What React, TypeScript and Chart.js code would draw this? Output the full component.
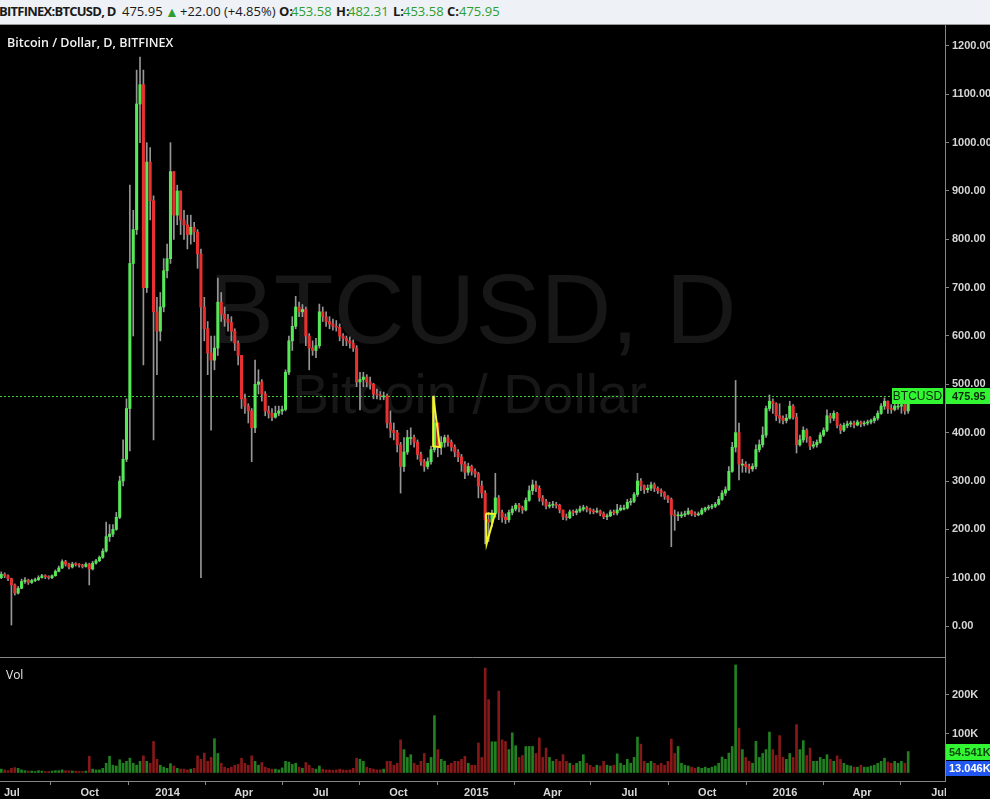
import React, { useEffect, useRef } from "react";
import { Chart, registerables } from "chart.js";

Chart.register(...registerables);

// ---------------- DATA ----------------
// 4-day candles starting 17 Jun 2013 (x = days since 17 Jun 2013)
const DAYS_PER_BAR = 4;
const firstOpen = 100;

const closes = [
  107, 104, 98, 85, 68, 78, 92, 95, 90, 94,
  96, 100, 104, 102, 100, 104, 113, 120, 133, 128,
  122, 128, 127, 126, 123, 128, 118, 130, 135, 142,
  155, 185, 190, 200, 225, 300, 345, 450, 750, 820,
  1080, 1120, 700, 960, 880, 650, 610, 660, 735, 760,
  940, 850, 900, 840, 830, 810, 825, 815, 770, 660,
  615, 565, 550, 575, 670, 645, 635, 628, 610, 585,
  560, 470, 455, 445, 410, 500, 505, 480, 445, 440,
  432, 440, 445, 448, 525, 590, 620, 660, 650, 655,
  600, 575, 570, 580, 650, 640, 630, 625, 620, 618,
  600, 595, 590, 585, 575, 505, 510, 515, 505, 500,
  480, 478, 476, 476, 420, 405, 400, 375, 330, 360,
  390, 390, 380, 355, 340, 330, 340, 365, 420, 370,
  380, 390, 380, 370, 360, 350, 335, 318, 330, 320,
  315, 290, 275, 220, 215, 232, 265, 235, 225, 220,
  235, 242, 250, 245, 240, 260, 280, 292, 285, 265,
  258, 248, 250, 252, 250, 240, 226, 224, 236, 235,
  238, 242, 245, 242, 238, 236, 238, 232, 226, 228,
  236, 234, 240, 244, 244, 256, 258, 272, 300, 290,
  282, 285, 292, 285, 280, 276, 268, 262, 230, 228,
  230, 230, 232, 238, 232, 230, 232, 240, 244, 246,
  248, 252, 262, 275, 282, 320, 370, 400, 335, 335,
  330, 325, 330, 365, 375, 395, 450, 465, 460, 435,
  430, 425, 430, 455, 432, 375, 385, 405, 390, 372,
  375, 380, 395, 405, 435, 430, 440, 415, 405, 415,
  418, 420, 416, 422, 418, 420, 422, 425, 430, 440,
  455, 465, 450, 448, 455, 455, 458, 445, 476,
];

const highs = [
  112, 110, 106, 99, 87, 82, 97, 100, 97, 97,
  99, 104, 107, 106, 104, 106, 116, 124, 137, 136,
  130, 132, 131, 129, 128, 131, 130, 134, 138, 145,
  160, 215, 210, 210, 235, 310, 385, 470, 912, 860,
  1150, 1177, 1150, 1000, 990, 890, 680, 690, 760, 790,
  1000, 940, 912, 900, 860, 850, 850, 835, 820, 780,
  680, 630, 600, 600, 720, 690, 660, 645, 640, 615,
  590, 560, 480, 460, 450, 550, 530, 510, 485, 455,
  450, 455, 455, 455, 530, 600, 640, 682, 670, 665,
  660, 605, 590, 595, 666, 660, 650, 640, 635, 632,
  625, 605, 600, 598, 592, 580, 525, 525, 520, 515,
  502, 490, 485, 484, 480, 445, 420, 405, 380, 390,
  405, 410, 395, 385, 360, 345, 348, 372, 476, 420,
  392, 395, 395, 385, 375, 365, 355, 340, 337, 333,
  325, 318, 300, 280, 235, 240, 316, 270, 240, 232,
  240, 248, 254, 254, 248, 265, 290, 302, 300, 290,
  270, 262, 256, 258, 256, 252, 240, 232, 240, 240,
  242, 248, 250, 248, 244, 242, 244, 240, 236, 232,
  240, 240, 252, 250, 250, 262, 264, 276, 316, 305,
  292, 292, 298, 296, 288, 284, 278, 270, 265, 240,
  236, 236, 238, 244, 240, 236, 236, 244, 246, 250,
  252, 256, 268, 280, 288, 330, 380, 508, 420, 345,
  340, 335, 336, 375, 385, 412, 455, 478, 470, 462,
  460, 435, 438, 465, 458, 440, 395, 412, 408, 392,
  382, 385, 400, 410, 447, 440, 445, 442, 418, 420,
  424, 424, 424, 426, 424, 424, 426, 428, 434, 445,
  460, 472, 466, 458, 462, 460, 462, 460, 482,
];

const lows = [
  98, 100, 94, 2, 64, 66, 77, 88, 86, 88,
  92, 94, 99, 98, 97, 98, 103, 112, 119, 124,
  118, 120, 124, 122, 120, 122, 85, 116, 128, 133,
  140, 153, 175, 185, 198, 222, 290, 340, 362, 600,
  810, 1000, 540, 690, 840, 385, 520, 590, 650, 720,
  750, 800, 830, 810, 800, 780, 790, 795, 740, 100,
  590, 520, 405, 530, 560, 630, 620, 610, 590, 570,
  540, 450, 440, 420, 340, 400, 480, 465, 435, 430,
  425, 430, 435, 438, 445, 520, 570, 615, 640, 640,
  580, 530, 560, 555, 575, 630, 620, 615, 612, 610,
  590, 580, 580, 575, 568, 495, 447, 495, 495, 490,
  470, 470, 468, 468, 410, 390, 385, 360, 275, 320,
  355, 375, 370, 345, 332, 320, 325, 335, 360, 350,
  355, 370, 372, 362, 350, 340, 320, 305, 312, 312,
  308, 265, 265, 170, 175, 205, 225, 220, 215, 212,
  215, 230, 238, 236, 233, 238, 258, 272, 278, 258,
  250, 242, 244, 245, 244, 234, 220, 219, 222, 228,
  230, 235, 238, 236, 232, 232, 234, 228, 222, 220,
  226, 230, 230, 238, 240, 242, 250, 255, 268, 280,
  274, 276, 280, 278, 274, 268, 262, 255, 164, 198,
  218, 224, 226, 230, 228, 226, 228, 230, 236, 240,
  242, 245, 250, 260, 270, 280, 318, 360, 302, 318,
  318, 316, 320, 325, 360, 370, 390, 445, 440, 425,
  420, 418, 420, 428, 428, 358, 372, 380, 380, 365,
  368, 370, 378, 392, 402, 420, 425, 410, 398, 402,
  410, 412, 410, 414, 412, 414, 416, 418, 420, 426,
  438, 448, 440, 440, 445, 448, 440, 438, 440,
];

// volume in thousands of BTC (peak day in each 4-day bar)
const volumesK = [
  10, 8, 6, 12, 14, 12, 8, 6, 5, 5,
  4, 6, 5, 4, 4, 5, 6, 6, 8, 6,
  6, 5, 5, 4, 4, 5, 43, 10, 8, 8,
  12, 25, 43, 20, 18, 34, 25, 30, 38, 25,
  20, 30, 44, 30, 25, 81, 35, 20, 15, 12,
  24, 18, 12, 10, 10, 8, 10, 12, 44, 35,
  51, 30, 40, 88, 50, 25, 15, 12, 15, 20,
  22, 38, 25, 20, 44, 30, 20, 27, 15, 12,
  10, 10, 8, 13, 30, 28, 22, 25, 15, 12,
  27, 20, 12, 10, 18, 10, 8, 8, 7, 8,
  10, 8, 7, 8, 12, 38, 35, 30, 15, 12,
  10, 8, 8, 10, 30, 30, 20, 25, 85, 60,
  40, 47, 25, 20, 30, 50, 25, 40, 147, 60,
  35, 30, 20, 25, 30, 30, 35, 43, 25, 20,
  20, 77, 40, 269, 188, 80, 80, 210, 85, 81,
  60, 103, 70, 40, 45, 68, 68, 68, 50, 90,
  40, 64, 40, 30, 35, 30, 47, 30, 25, 20,
  25, 30, 47, 25, 20, 15, 20, 18, 30, 20,
  18, 20, 49, 25, 20, 35, 25, 40, 92, 74,
  30, 25, 30, 25, 20, 25, 20, 30, 87, 50,
  68, 25, 20, 18, 15, 12, 15, 12, 15, 12,
  15, 18, 25, 41, 35, 51, 68, 277, 115, 60,
  40, 30, 25, 81, 40, 50, 60, 105, 60, 45,
  96, 40, 35, 50, 40, 124, 60, 83, 45, 64,
  30, 30, 40, 35, 47, 35, 30, 44, 35, 25,
  20, 18, 15, 15, 20, 15, 15, 18, 20, 25,
  30, 38, 28, 25, 30, 25, 30, 25, 55,
];

const xTickDays = [14, 106, 198, 288, 379, 471, 563, 653, 744, 836, 928, 1019, 1110];
const xTickLabels = ["Jul", "Oct", "2014", "Apr", "Jul", "Oct", "2015", "Apr", "Jul", "Oct", "2016", "Apr", "Jul"];
const priceTickValues = [0, 100, 200, 300, 400, 500, 600, 700, 800, 900, 1000, 1100, 1200];
const volTickValues = [0, 100, 200];

// drawings (yellow triangles) : day, price
const drawingA = [
  { x: 512, y: 476 },
  { x: 520, y: 370 },
  { x: 512, y: 372 },
  { x: 512, y: 476 },
];
const drawingB = [
  { x: 574.4, y: 233 },
  { x: 585, y: 232 },
  { x: 575.2, y: 170 },
  { x: 574.4, y: 233 },
];

// header values
const symbolText = "BITFINEX:BTCUSD, D";
const lastClose = 475.95;
const change = 22.0;
const changePct = 4.85;
const lastO = 453.58;
const lastH = 482.31;
const lastL = 453.58;
const lastC = 475.95;
const lastVolK = 54.541;
const volMaK = 13.046;

// ---------------- STYLE ----------------
const X_MIN = 0;
const X_MAX = 1117;
const P_MIN = -64.1;
const P_MAX = 1243.4;
const V_MIN = -20.5;
const V_MAX = 297.4;
const AXIS_W = 45;

const UP = "rgb(86,232,86)";
const DOWN = "rgb(232,48,48)";
const WICK = "rgb(150,150,150)";
const VOL_UP = "rgba(36,135,36,0.95)";
const VOL_DOWN = "rgba(140,26,26,0.95)";
const LINE_GRAY = "#858585";
const TICK_TEXT = "#d6d6d6";
const TAG_GREEN = "#33f633";
const HEADER_GREEN = "#2e9e2e";
const FONT = '"Liberation Sans", Arial, sans-serif';

function buildCandles() {
  const bodies: any[] = [];
  const wicks: any[] = [];
  const colors: string[] = [];
  const vols: any[] = [];
  const volColors: string[] = [];
  for (let i = 0; i < closes.length; i++) {
    const open = i === 0 ? firstOpen : closes[i - 1];
    const x = i * DAYS_PER_BAR + DAYS_PER_BAR / 2 - 0.5;
    bodies.push({ x, y: [open, closes[i]] });
    wicks.push({ x, y: [lows[i], highs[i]] });
    const up = closes[i] >= open;
    colors.push(up ? UP : DOWN);
    vols.push({ x, y: volumesK[i] });
    volColors.push(up ? VOL_UP : VOL_DOWN);
  }
  return { bodies, wicks, colors, vols, volColors };
}

function fixAxisWidth(scale: any) {
  scale.width = AXIS_W;
  scale.paddingTop = 0;
  scale.paddingBottom = 0;
}

function HeaderText(props: { x: number; children: any; style?: any }) {
  return (
    <span style={{ position: "absolute", left: props.x, top: 0, ...(props.style || {}) }}>{props.children}</span>
  );
}

export default function App() {
  const priceRef = useRef<HTMLCanvasElement>(null);
  const volRef = useRef<HTMLCanvasElement>(null);

  useEffect(() => {
    const { bodies, wicks, colors, vols, volColors } = buildCandles();

    const pricePlugin = {
      id: "priceDecor",
      beforeDatasetsDraw(chart: any) {
        const { ctx, chartArea } = chart;
        const cx = (chartArea.left + chartArea.right) / 2;
        ctx.save();
        ctx.fillStyle = "#171717";
        ctx.textAlign = "center";
        ctx.textBaseline = "alphabetic";
        ctx.font = `98px ${FONT}`;
        ctx.fillText("BTCUSD, D", cx, 318);
        ctx.font = `55px ${FONT}`;
        ctx.fillText("Bitcoin / Dollar", cx - 3, 388);
        // last price dashed line
        const y = Math.round(chart.scales.y.getPixelForValue(lastClose)) + 0.5;
        ctx.strokeStyle = "#3cd23c";
        ctx.lineWidth = 1;
        ctx.setLineDash([2, 2]);
        ctx.beginPath();
        ctx.moveTo(chartArea.left, y);
        ctx.lineTo(chartArea.right - 52, y);
        ctx.stroke();
        ctx.restore();
      },
      afterDraw(chart: any) {
        const { ctx, chartArea } = chart;
        const y = Math.round(chart.scales.y.getPixelForValue(lastClose));
        ctx.save();
        ctx.fillStyle = TAG_GREEN;
        ctx.fillRect(chartArea.right - 53, y - 8, 51, 16);
        ctx.fillRect(chartArea.right + 1, y - 8, AXIS_W, 16);
        ctx.fillStyle = "#0c2a0c";
        ctx.textBaseline = "middle";
        ctx.textAlign = "center";
        ctx.font = `12px ${FONT}`;
        ctx.fillText("BTCUSD", chartArea.right - 27.5, y + 0.5);
        ctx.textAlign = "left";
        ctx.font = `bold 11px ${FONT}`;
        ctx.fillText(lastClose.toFixed(2), chartArea.right + 7, y + 0.5);
        ctx.restore();
      },
    };

    const volPlugin = {
      id: "volDecor",
      afterDraw(chart: any) {
        const { ctx, chartArea } = chart;
        const ys = chart.scales.y;
        ctx.save();
        // separator line between panes
        ctx.strokeStyle = LINE_GRAY;
        ctx.lineWidth = 1;
        ctx.beginPath();
        ctx.moveTo(0, 0.5);
        ctx.lineTo(chartArea.right, 0.5);
        ctx.stroke();
        // clip x labels under the price scale
        ctx.fillStyle = "#000";
        ctx.fillRect(chartArea.right + 1, chartArea.bottom + 1, AXIS_W, 40);
        // tags
        const yv = Math.round(ys.getPixelForValue(lastVolK));
        ctx.fillStyle = TAG_GREEN;
        ctx.fillRect(chartArea.right + 1, yv - 8, AXIS_W, 16);
        ctx.fillStyle = "#0d4a0d";
        ctx.textBaseline = "middle";
        ctx.textAlign = "left";
        ctx.font = `bold 11px ${FONT}`;
        ctx.fillText(lastVolK.toFixed(3) + "K", chartArea.right + 4, yv + 0.5);
        const ym = Math.round(ys.getPixelForValue(volMaK));
        ctx.fillStyle = "#2157f0";
        ctx.fillRect(chartArea.right + 1, ym - 7, AXIS_W, 15);
        ctx.fillStyle = "#ffffff";
        ctx.fillText(volMaK.toFixed(3) + "K", chartArea.right + 4, ym + 0.5);
        ctx.restore();
      },
    };

    const priceChart = new Chart(priceRef.current as HTMLCanvasElement, {
      type: "bar",
      data: {
        datasets: [
          {
            type: "line",
            data: drawingA,
            borderColor: "#f4f42a",
            borderWidth: 2,
            pointRadius: 0,
            tension: 0,
            order: 0,
          } as any,
          {
            type: "line",
            data: drawingB,
            borderColor: "#f4f42a",
            borderWidth: 2,
            pointRadius: 0,
            tension: 0,
            order: 0,
          } as any,
          {
            data: bodies,
            backgroundColor: colors,
            barThickness: 2.4,
            minBarLength: 1,
            grouped: false,
            borderWidth: 0,
            order: 1,
          } as any,
          {
            data: wicks,
            backgroundColor: WICK,
            barThickness: 1,
            grouped: false,
            borderWidth: 0,
            order: 2,
          } as any,
        ],
      },
      options: {
        animation: false,
        responsive: false,
        devicePixelRatio: 1,
        events: [],
        layout: { padding: 0 },
        plugins: { legend: { display: false }, tooltip: { enabled: false } },
        scales: {
          x: {
            type: "linear",
            min: X_MIN,
            max: X_MAX,
            offset: false,
            display: false,
          },
          y: {
            type: "linear",
            position: "right",
            min: P_MIN,
            max: P_MAX,
            afterBuildTicks: (scale: any) => {
              scale.ticks = priceTickValues.map((v) => ({ value: v }));
            },
            afterFit: fixAxisWidth,
            grid: {
              drawOnChartArea: false,
              drawTicks: true,
              tickLength: 4,
              color: LINE_GRAY,
            },
            border: { display: true, color: LINE_GRAY },
            ticks: {
              autoSkip: false,
              padding: 3,
              color: TICK_TEXT,
              font: { family: FONT, size: 11, weight: "bold" },
              callback: (v: any) => Number(v).toFixed(2),
            },
          },
        },
      } as any,
      plugins: [pricePlugin],
    });

    const volChart = new Chart(volRef.current as HTMLCanvasElement, {
      type: "bar",
      data: {
        datasets: [
          {
            data: vols,
            backgroundColor: volColors,
            barThickness: 2,
            grouped: false,
            borderWidth: 0,
          } as any,
        ],
      },
      options: {
        animation: false,
        responsive: false,
        devicePixelRatio: 1,
        events: [],
        layout: { padding: 0 },
        plugins: { legend: { display: false }, tooltip: { enabled: false } },
        scales: {
          x: {
            type: "linear",
            min: X_MIN,
            max: X_MAX,
            offset: false,
            afterBuildTicks: (scale: any) => {
              scale.ticks = xTickDays.map((d) => ({ value: d }));
            },
            afterFit: (scale: any) => {
              scale.height = 18;
              scale.paddingLeft = 0;
              scale.paddingRight = 0;
            },
            grid: {
              drawOnChartArea: false,
              drawTicks: true,
              tickLength: 4,
              color: LINE_GRAY,
            },
            border: { display: true, color: LINE_GRAY },
            ticks: {
              autoSkip: false,
              maxRotation: 0,
              padding: 1,
              color: TICK_TEXT,
              font: { family: FONT, size: 11, weight: "bold" },
              callback: (v: any) => {
                const k = xTickDays.indexOf(Number(v));
                return k >= 0 ? xTickLabels[k] : "";
              },
            },
          },
          y: {
            type: "linear",
            position: "right",
            min: V_MIN,
            max: V_MAX,
            afterBuildTicks: (scale: any) => {
              scale.ticks = volTickValues.map((v) => ({ value: v }));
            },
            afterFit: fixAxisWidth,
            grid: {
              drawOnChartArea: false,
              drawTicks: true,
              tickLength: 4,
              color: LINE_GRAY,
            },
            border: { display: true, color: LINE_GRAY },
            ticks: {
              autoSkip: false,
              padding: 3,
              color: TICK_TEXT,
              font: { family: FONT, size: 11, weight: "bold" },
              callback: (v: any) => (Number(v) === 0 ? "" : `${v}K`),
            },
          },
        },
      } as any,
      plugins: [volPlugin],
    });

    return () => {
      priceChart.destroy();
      volChart.destroy();
    };
  }, []);

  const green = { color: HEADER_GREEN };
  const bold = { fontWeight: 700 };

  return (
    <div
      style={{
        position: "fixed",
        left: 0,
        top: 0,
        width: 990,
        height: 799,
        background: "#000",
        overflow: "hidden",
      }}
    >
      <div
        style={{
          position: "absolute",
          left: 0,
          top: 0,
          width: 990,
          height: 25,
          boxSizing: "border-box",
          background: "#eef1f5",
          borderBottom: "1px solid #9a9a9a",
          fontFamily: '"Open Sans", sans-serif',
          fontSize: 13,
          lineHeight: "23px",
          whiteSpace: "nowrap",
          color: "#1a1a1a",
          overflow: "hidden",
        }}
      >
        <HeaderText x={-1} style={{ ...bold, letterSpacing: "-0.75px" }}>{symbolText}</HeaderText>
        <HeaderText x={122}>{lastClose.toFixed(2)}</HeaderText>
        <HeaderText x={165} style={{ ...green, fontSize: 14 }}>▲</HeaderText>
        <HeaderText x={180}>+{change.toFixed(2)} (+{changePct.toFixed(2)}%)</HeaderText>
        <HeaderText x={279} style={bold}>O:</HeaderText>
        <HeaderText x={291} style={green}>{lastO.toFixed(2)}</HeaderText>
        <HeaderText x={336} style={bold}>H:</HeaderText>
        <HeaderText x={348} style={green}>{lastH.toFixed(2)}</HeaderText>
        <HeaderText x={393} style={bold}>L:</HeaderText>
        <HeaderText x={403} style={green}>{lastL.toFixed(2)}</HeaderText>
        <HeaderText x={447} style={bold}>C:</HeaderText>
        <HeaderText x={459} style={green}>{lastC.toFixed(2)}</HeaderText>
      </div>
      <canvas
        ref={priceRef}
        width={990}
        height={632}
        style={{ position: "absolute", left: 0, top: 25, width: 990, height: 632, display: "block" }}
      />
      <canvas
        ref={volRef}
        width={990}
        height={142}
        style={{ position: "absolute", left: 0, top: 657, width: 990, height: 142, display: "block" }}
      />
      <div
        style={{
          position: "absolute",
          left: 7,
          top: 34,
          color: "#f2f2f2",
          fontFamily: '"Open Sans", sans-serif',
          fontSize: 12.5,
          fontWeight: 600,
          whiteSpace: "nowrap",
        }}
      >
        Bitcoin / Dollar, D, BITFINEX
      </div>
      <div
        style={{
          position: "absolute",
          left: 6,
          top: 666,
          color: "#e8e8e8",
          fontFamily: '"Open Sans", sans-serif',
          fontSize: 12,
          whiteSpace: "nowrap",
        }}
      >
        Vol
      </div>
    </div>
  );
}
